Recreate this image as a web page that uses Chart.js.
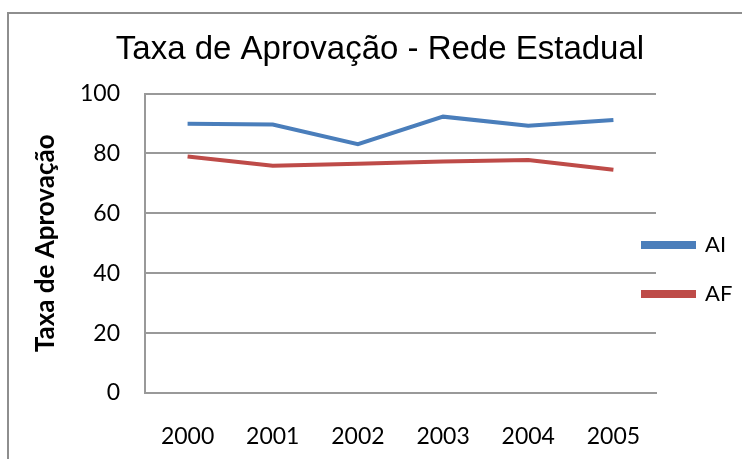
<!DOCTYPE html>
<html>
<head>
<meta charset="utf-8">
<script src="https://cdn.jsdelivr.net/npm/chart.js@4/dist/chart.umd.min.js"></script>
<style>
    html, body { margin: 0; padding: 0; background: #fff; }
    #frame {
        position: absolute;
        left: 7px; top: 12px;
        width: 760px; height: 470px;
        border: 2px solid #8e8e8e;
        box-sizing: border-box;
    }
    #chart { position: absolute; left: 0; top: 0; }
</style>
</head>
<body>
<div id="frame"></div>
<canvas id="chart" width="742" height="459"></canvas>
<script>
const years = ['2000', '2001', '2002', '2003', '2004', '2005'];
const aiValues = [89.9, 89.7, 83.1, 92.3, 89.3, 91.2];
const afValues = [79.0, 75.9, 76.6, 77.3, 77.8, 74.6];
const yTicks = [0, 20, 40, 60, 80, 100];

// legend reserves less room and sits a bit into the plot, like the original
const legendShift = {
    id: 'legendShift',
    beforeLayout(chart) {
        const lg = chart.legend;
        if (lg && !lg._narrow) {
            const fit = lg.fit.bind(lg);
            lg.fit = function () {
                fit();
                this._fullWidth = this.width;
                this.width = 86;
            };
            lg._narrow = true;
        }
    },
    afterLayout(chart) {
        const lg = chart.legend;
        if (lg) {
            lg.left -= 40;
            lg.width = lg._fullWidth;
            lg.right = lg.left + lg.width;
            lg.top += 40;
            lg.bottom += 40;
        }
    }
};

const ctx = document.getElementById('chart').getContext('2d');
new Chart(ctx, {
    type: 'line',
    data: {
        labels: years,
        datasets: [{
            label: 'AI',
            data: aiValues,
            borderColor: '#4a7ebb',
            backgroundColor: '#4a7ebb',
            borderWidth: 4,
            pointRadius: 0,
            tension: 0
        }, {
            label: 'AF',
            data: afValues,
            borderColor: '#be4b48',
            backgroundColor: '#be4b48',
            borderWidth: 4,
            pointRadius: 0,
            tension: 0
        }]
    },
    options: {
        responsive: false,
        animation: false,
        layout: { padding: { left: 18, right: 0, top: 0, bottom: 0 } },
        scales: {
            x: {
                offset: true,
                grid: { display: false, drawTicks: false },
                border: { display: true, color: '#999', width: 2 },
                ticks: {
                    padding: 30,
                    color: '#000',
                    font: { family: 'Lato', size: 23 }
                },
                afterFit: function (scale) { scale.height = 66; }
            },
            y: {
                min: 0,
                max: 100,
                afterBuildTicks: function (scale) {
                    scale.ticks = yTicks.map(v => ({ value: v }));
                },
                grid: { color: '#999', lineWidth: 2, drawTicks: false },
                border: { display: true, color: '#999', width: 2 },
                ticks: {
                    padding: 25,
                    color: '#000',
                    font: { family: 'Lato', size: 23 }
                },
                title: {
                    display: true,
                    text: 'Taxa de Aprovação',
                    color: '#000',
                    padding: { top: 12, bottom: 0 },
                    font: { family: 'Lato', size: 26, weight: 'bold' }
                },
                afterFit: function (scale) { scale.width = 127; }
            }
        },
        plugins: {
            title: {
                display: true,
                text: 'Taxa de Aprovação - Rede Estadual',
                color: '#000',
                padding: { top: 30, bottom: 24 },
                font: { family: 'Liberation Sans', size: 33, weight: 'normal' }
            },
            legend: {
                display: true,
                position: 'right',
                labels: {
                    usePointStyle: false,
                    boxWidth: 51,
                    boxHeight: 4,
                    padding: 27,
                    color: '#000',
                    font: { family: 'Lato', size: 22 }
                }
            },
            tooltip: { enabled: false }
        }
    },
    plugins: [legendShift]
});
</script>
</body>
</html>
